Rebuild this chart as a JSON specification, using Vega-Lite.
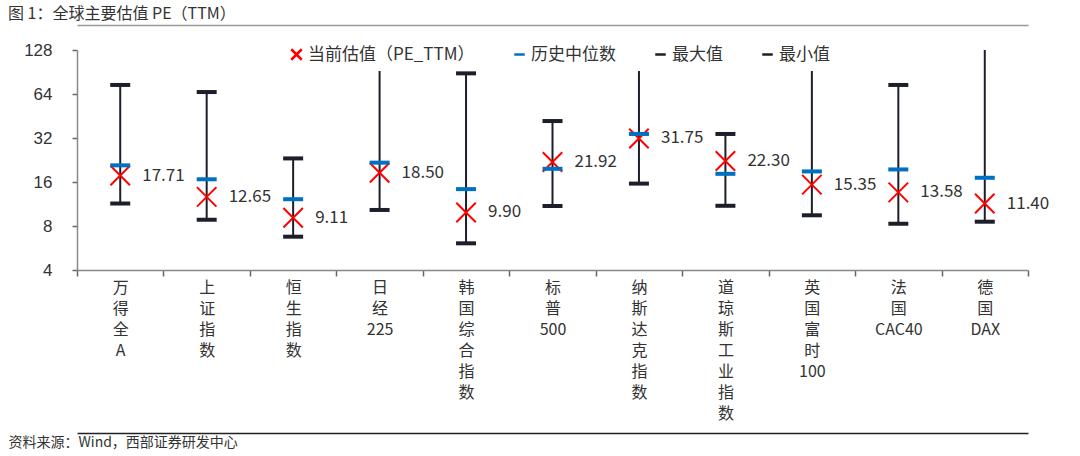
{
  "$schema": "https://vega.github.io/schema/vega-lite/v6.json",
  "width": 951,
  "height": 220,
  "autosize": {"type": "none"},
  "padding": {"left": 77, "top": 50, "right": 52, "bottom": 186},
  "background": "white",
  "title": {"text": "图 1：全球主要估值 PE（TTM）", "anchor": "start", "frame": "group", "dx": -69, "offset": 3, "font": "Noto Sans CJK SC", "fontSize": 16, "fontWeight": "normal", "color": "#333333"},
  "config": {"view": {"stroke": null}, "font": "Noto Sans CJK SC", "axis": {"ticks": true}},
  "data": {"values": [
    {"name": "万得全A", "current": 17.71, "median": 20.8, "max": 73.8, "min": 11.4},
    {"name": "上证指数", "current": 12.65, "median": 16.7, "max": 66, "min": 8.83},
    {"name": "恒生指数", "current": 9.11, "median": 12.2, "max": 23.2, "min": 6.76},
    {"name": "日经225", "current": 18.50, "median": 21.7, "max": 200, "min": 10.3},
    {"name": "韩国综合指数", "current": 9.90, "median": 14.3, "max": 88.6, "min": 6.09},
    {"name": "标普500", "current": 21.92, "median": 19.7, "max": 41.8, "min": 10.96},
    {"name": "纳斯达克指数", "current": 31.75, "median": 34.1, "max": 200, "min": 15.6},
    {"name": "道琼斯工业指数", "current": 22.30, "median": 18.2, "max": 34.1, "min": 11.0},
    {"name": "英国富时100", "current": 15.35, "median": 18.9, "max": 200, "min": 9.47},
    {"name": "法国CAC40", "current": 13.58, "median": 19.5, "max": 73.8, "min": 8.29},
    {"name": "德国DAX", "current": 11.40, "median": 17.1, "max": 200, "min": 8.56}
  ]},
  "resolve": {"axis": {"x": "independent"}},
  "layer": [
    {
      "mark": {"type": "rule", "color": "#1C1F2A", "strokeWidth": 2, "clip": true},
      "encoding": {
        "x": {"field": "name", "type": "nominal", "sort": null, "scale": {"type": "band", "paddingInner": 0, "paddingOuter": 0},
          "axis": {"orient": "bottom", "title": "资料来源：Wind，西部证券研发中心", "titleX": -69, "titleY": 172, "titleAnchor": "start", "titleAlign": "left", "titleBaseline": "middle", "titleFontSize": 14, "titleFontWeight": "normal", "titleColor": "#333333", "titleFont": "Noto Sans CJK SC",
            "tickBand": "extent", "ticks": true, "tickSize": 6, "tickColor": "#666666", "tickWidth": 1.5, "tickOpacity": 1,
            "labelAngle": 0, "labelFont": "Noto Sans CJK SC", "labelFontSize": 16, "labelColor": "#333333", "labelLineHeight": 21, "labelBaseline": "top", "labelPadding": 3, "domainColor": "#888888", "domainWidth": 1.5,
            "labelExpr": "split(replace(replace(datum.label, regexp('([\\u4e00-\\u9fa5])','g'), '$1|'), regexp('\\\\|$'), ''), '|')"}},
        "y": {"field": "min", "type": "quantitative", "scale": {"type": "log", "base": 2, "domain": [4, 128], "nice": false},
          "axis": {"title": null, "values": [4, 8, 16, 32, 64, 128], "grid": false, "labelFont": "Liberation Sans", "labelFontSize": 17, "labelColor": "#333333", "domainColor": "#888888", "domainWidth": 1.5, "ticks": true, "tickColor": "#666666", "tickWidth": 1.5, "tickSize": 5, "tickOpacity": 1, "labelPadding": 20}},
        "y2": {"field": "max"}
      }
    },
    {
      "transform": [{"fold": ["current"], "as": ["series", "value"]}],
      "mark": {"type": "point", "filled": false, "strokeWidth": 2, "size": 380, "opacity": 1},
      "encoding": {
        "x": {"field": "name", "type": "nominal", "sort": null, "axis": null},
        "y": {"field": "value", "type": "quantitative", "axis": {"title": null}},
        "color": {"field": "series", "type": "nominal", "scale": {"domain": ["current", "median", "max", "min"], "range": ["#FF0000", "#0070C0", "#1C1F2A", "#1C1F2A"]},
          "legend": {"orient": "none", "legendX": 205, "legendY": -10, "direction": "horizontal", "columns": 4, "title": null, "gridAlign": "none", "columnPadding": 34, "labelFont": "Noto Sans CJK SC", "labelFontSize": 17, "labelColor": "#333333", "labelOffset": 3, "labelLimit": 400, "symbolSize": 110, "symbolStrokeWidth": 2.5, "symbolOpacity": 1, "fillColor": "white", "padding": 6, "zindex": 2,
            "labelExpr": "{'current': '当前估值（PE_TTM）', 'median': '历史中位数', 'max': '最大值', 'min': '最小值'}[datum.value]"}},
        "shape": {"field": "series", "type": "nominal", "scale": {"domain": ["current", "median", "max", "min"], "range": ["M-1,-1L1,1M1,-1L-1,1", "stroke", "stroke", "stroke"]},
          "legend": {"orient": "none", "legendX": 205, "legendY": -10, "direction": "horizontal", "columns": 4, "title": null, "gridAlign": "none", "columnPadding": 34, "labelFont": "Noto Sans CJK SC", "labelFontSize": 17, "labelColor": "#333333", "labelOffset": 3, "labelLimit": 400, "symbolSize": 110, "symbolStrokeWidth": 2.5, "symbolOpacity": 1, "fillColor": "white", "padding": 6, "zindex": 2,
            "labelExpr": "{'current': '当前估值（PE_TTM）', 'median': '历史中位数', 'max': '最大值', 'min': '最小值'}[datum.value]"}}
      }
    },
    {
      "transform": [{"fold": ["median", "max", "min"], "as": ["series", "value"]}],
      "mark": {"type": "tick", "size": 20, "thickness": 4, "opacity": 1, "clip": true},
      "encoding": {
        "x": {"field": "name", "type": "nominal", "sort": null, "axis": {"title": null, "orient": "top", "offset": 25, "labels": false, "ticks": false, "domainColor": "#999999", "domainWidth": 1.5}},
        "y": {"field": "value", "type": "quantitative", "axis": {"title": null}},
        "color": {"field": "series", "type": "nominal"}
      }
    },
    {
      "mark": {"type": "text", "align": "left", "baseline": "middle", "dx": 22, "fontSize": 17, "font": "Noto Sans CJK SC", "color": "#333333"},
      "encoding": {
        "x": {"field": "name", "type": "nominal", "sort": null, "axis": {"title": null, "orient": "bottom", "offset": 163, "labels": false, "ticks": false, "domainColor": "#222222", "domainWidth": 1.5}},
        "y": {"field": "current", "type": "quantitative", "axis": {"title": null}},
        "text": {"field": "current", "type": "quantitative", "format": ".2f"}
      }
    }
  ]
}
